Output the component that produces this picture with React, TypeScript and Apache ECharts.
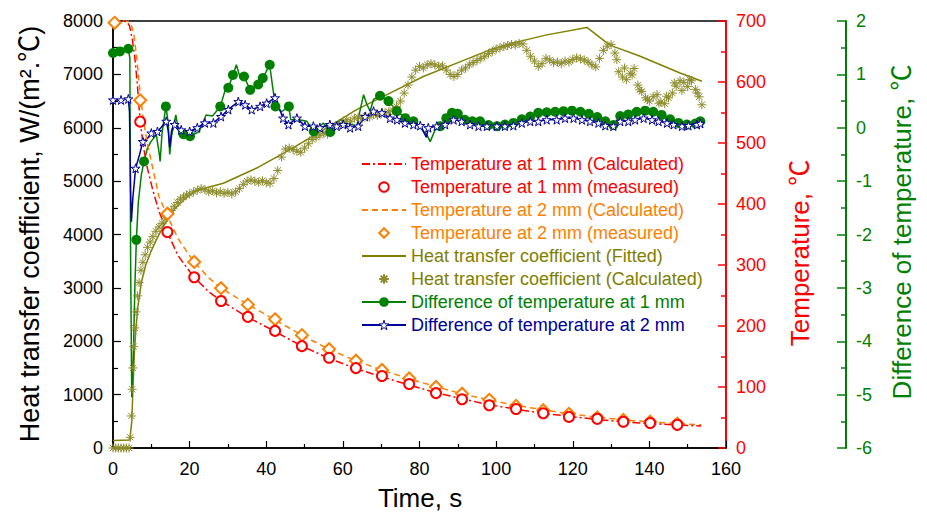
import React, { useEffect, useRef } from "react";
import * as echarts from "echarts";

const FONT = '"Liberation Sans", Arial, "Noto Sans CJK SC", sans-serif';

// Temperature (°C), calculated curves [time s, T]
const tempCalc1 = [[0,700],[2,700],[3.6,699],[4.3,692],[5,672],[5.7,640],[6.3,600],[7.1,535],[8,492],[9,458],[10.5,420],[12,388],[14,356],[17,315],[21,281],[25,256],[28,242],[35,215],[42,192],[49,168],[56,148],[63,131],[70,117],[77,104],[84,91],[91,81],[98,71],[105,64],[112,57],[119,52],[126,47],[133,43],[140,40],[147,38],[153.5,36]];
const tempCalc2 = [[0,700],[2,700],[4,699],[4.8,693],[5.5,675],[6.2,640],[7.1,580],[8,535],[9,498],[10.5,455],[12,412],[14,383],[17,343],[21,306],[25,279],[28,263],[35,236],[42,211],[49,186],[56,163],[63,144],[70,128],[77,114],[84,101],[91,89],[98,79],[105,70],[112,63],[119,56],[126,51],[133,46],[140,43],[147,40],[153.5,38]];
// Measured temperatures (first 1 mm point hidden under the 2 mm marker in the picture)
const measTimes = [0.4,7.1,14.2,21.2,28.2,35.2,42.3,49.3,56.4,63.4,70.2,77.3,84.3,91.1,98.2,105.2,112.3,119,126.4,133.2,140.2,147.3];
const tempMeas1 = [null,535,354,280,241,215,192,167,148,131,118,105,90,80,70,64,57,51,48,43,41,38];
const tempMeas2 = [697,570,384,305,262,235,211,185,162,143,128,114,100,89,79,69,62,56,50,46,43,40];

// Heat transfer coefficient W/(m2.C)
const htcFitted = [[0,140],[4.4,150],[4.9,500],[5.2,1100],[5.6,1800],[6.0,2250],[6.5,2650],[7.4,3100],[8.5,3420],[9.9,3680],[11.3,3900],[13.1,4150],[16.1,4480],[19.6,4720],[22,4830],[28.8,4960],[37.5,5245],[46.2,5590],[54.9,5960],[63.6,6340],[72.3,6650],[81,6960],[89.7,7210],[98.4,7460],[104.5,7590],[113.2,7740],[123.7,7880],[128.9,7590],[130.6,7525],[137.6,7340],[148,7025],[153.7,6870]];
const htcCalc = [[0,0],[0.7,0],[1.4,0],[2.1,0],[2.8,0],[3.5,0],[4.2,0],[4.5,200],[4.8,600],[5.0,1100],[5.2,1500],[5.4,1900],[5.7,2250],[6.0,2550],[6.4,2850],[6.8,3100],[7.3,3330],[7.8,3480],[8.4,3620],[9.0,3760],[9.7,3860],[10.4,3960],[11.2,4060],[12,4140],[12.8,4210],[13.6,4290],[14.4,4370],[15.2,4450],[16,4530],[16.8,4600],[17.6,4660],[18.4,4700],[19.2,4740],[20,4760],[21,4800],[22,4830],[23,4860],[24,4840],[25,4800],[26,4820],[27,4780],[28,4800],[29,4770],[30,4790],[31,4760],[32,4800],[33,4860],[34,4940],[35,5000],[36,5020],[37,5000],[38,4980],[39,5010],[40,4970],[41,4960],[42,5050],[43,5200],[44,5450],[45,5600],[46,5620],[47,5590],[48,5560],[49,5540],[50,5620],[51,5700],[52,5780],[53,5820],[54,5860],[55,5900],[56,5880],[57,5960],[58,6040],[59,6060],[60,6100],[61,6150],[62,6120],[63,6180],[64,6200],[65,6170],[66,6220],[67,6200],[68,6250],[69,6230],[70,6260],[71,6280],[72,6300],[73,6330],[74,6400],[75,6500],[76,6650],[77,6800],[78,6950],[79,7080],[80,7150],[81,7120],[82,7180],[83,7200],[84,7180],[85,7150],[86,7160],[87,7080],[88,7000],[89,6960],[90,7000],[91,7080],[92,7120],[93,7180],[94,7220],[95,7260],[96,7300],[97,7340],[98,7390],[99,7430],[100,7470],[101,7500],[102,7520],[103,7540],[104,7560],[105,7550],[106,7580],[107,7570],[108,7450],[109,7340],[110,7250],[111,7150],[112,7200],[113,7300],[114,7270],[115,7220],[116,7230],[117,7200],[118,7250],[119,7230],[120,7280],[121,7310],[122,7290],[123,7270],[124,7230],[125,7180],[126,7140],[127,7300],[128,7450],[129,7530],[130,7560],[131,7400],[131.5,7275],[132,7050],[133,6950],[133.5,7120],[134,6900],[135,7020],[135.5,6990],[136,7110],[137,6800],[137.5,6710],[138,6680],[139,6560],[139.5,6525],[140,6500],[141,6580],[142,6620],[142.5,6460],[143,6480],[144,6450],[144.5,6590],[145,6560],[146,6650],[146.5,6840],[147,6780],[148,6880],[148.5,6700],[149,6850],[150,6770],[150.5,6900],[151,6880],[152,6720],[152.5,6650],[153,6580],[153.7,6430]];

// Difference of temperature (°C): [time, diff, marker(1) / none(0)]
const diff1mm = [[0,1.40,1],[1.8,1.43,1],[4.0,1.48,1],[4.4,1.3,0],[4.6,-2.5,0],[4.9,-5.05,0],[5.3,-4.3,0],[5.7,-3.0,0],[6.1,-2.1,1],[6.6,-1.4,0],[7.4,-0.88,0],[8.1,-0.63,1],[9.0,-0.38,0],[9.9,-0.26,0],[11.3,-0.13,0],[12.0,-0.45,0],[12.3,-0.63,0],[12.8,-0.1,0],[13.8,0.40,1],[14.4,0.1,0],[14.8,-0.5,0],[15.3,-0.15,0],[16.4,0.24,0],[17.2,-0.1,0],[18.4,-0.12,1],[20.1,-0.16,1],[22.5,-0.07,0],[24.3,0.24,0],[26.0,0.22,0],[28.0,0.40,1],[29.3,0.71,0],[30.1,0.75,1],[31.3,0.99,1],[32.2,1.18,0],[33.2,0.93,0],[34.2,0.96,1],[35.8,0.71,1],[37.9,0.81,1],[39.1,0.93,1],[40.9,1.18,1],[41.6,0.8,0],[42.4,0.40,1],[44.0,0.30,0],[45.9,0.40,1],[46.4,0.15,0],[48.6,0.15,0],[50.6,0.12,0],[52.4,-0.07,1],[54.9,0.09,0],[56.7,-0.08,1],[59.3,0.15,0],[61.0,0.09,0],[63.6,0.03,0],[65.4,0.62,0],[66.2,0.45,0],[67.1,0.31,0],[68.0,0.53,0],[69.7,0.6,1],[71.9,0.5,1],[74.1,0.31,1],[76.3,0.18,1],[78.4,0.12,1],[80.2,0.0,0],[81.9,-0.13,0],[82.8,-0.26,0],[84.0,-0.05,0],[85.4,0.03,1],[87.0,0.18,1],[88.5,0.28,1],[90.0,0.26,1],[91.8,0.15,1],[93.8,0.12,1],[95.8,0.12,1],[98,0.05,1],[100.2,0.03,1],[102.3,0.06,1],[104.5,0.09,1],[106.7,0.16,1],[108.9,0.21,1],[111,0.28,1],[113.2,0.29,1],[115.4,0.3,1],[117.6,0.31,1],[119.8,0.32,1],[122,0.3,1],[124.2,0.26,1],[126.4,0.2,1],[128.5,0.12,1],[130.6,0.05,1],[132.4,0.22,1],[134.5,0.25,1],[136.7,0.3,1],[138.9,0.32,1],[141,0.3,1],[143.2,0.24,1],[145.4,0.16,1],[147.6,0.09,1],[149.8,0.06,1],[152,0.08,1],[153.3,0.12,1]];
const diff2mm = [[0,0.52,1],[2.1,0.52,1],[4.0,0.54,1],[4.3,0.3,0],[4.6,-1.2,0],[4.8,-1.76,0],[5.2,-1.3,0],[5.9,-0.76,1],[6.9,-0.51,0],[7.8,-0.26,1],[9.1,-0.19,0],[10.0,-0.1,1],[11.6,-0.07,1],[12.5,0.0,0],[13.9,0.12,1],[14.4,-0.05,0],[14.8,-0.37,0],[15.3,-0.05,0],[16.1,0.06,1],[17.8,-0.04,1],[20.0,-0.07,1],[22.0,0.0,1],[24.0,0.09,1],[26.2,0.09,1],[28.2,0.21,1],[30.1,0.34,1],[32.7,0.49,1],[34.5,0.43,1],[36.2,0.34,1],[38.4,0.4,1],[40.1,0.46,1],[42.3,0.56,1],[44.4,0.18,1],[45.8,0.06,1],[48.0,0.18,1],[50.1,0.03,1],[52.3,0.03,1],[54.0,0.0,1],[56.6,0.06,1],[58.4,0.03,1],[60.1,0.06,1],[61.9,0.0,1],[64.0,0.03,1],[65.8,0.21,1],[68.0,0.31,1],[70.2,0.28,1],[72.3,0.18,1],[74.1,0.15,1],[76.2,0.09,1],[78.4,0.06,1],[80.2,0.04,1],[81.8,-0.18,0],[82.3,0.0,1],[84.5,0.03,1],[86.7,0.06,1],[88.9,0.15,1],[91.0,0.12,1],[93.2,0.06,1],[95.4,0.03,1],[97.6,0.03,1],[100.2,0.03,1],[102.3,0.03,1],[104.5,0.04,1],[106.7,0.09,1],[108.9,0.12,1],[111.0,0.12,1],[113.2,0.15,1],[115.8,0.15,1],[118.0,0.18,1],[120.2,0.18,1],[122.4,0.15,1],[124.5,0.12,1],[126.7,0.09,1],[128.5,0.04,1],[130.6,0.03,1],[132.4,0.12,1],[134.5,0.12,1],[136.3,0.15,1],[138.5,0.18,1],[140.7,0.15,1],[142.4,0.12,1],[144.6,0.09,1],[146.3,0.06,1],[148.5,0.03,1],[150.2,0.04,1],[152.4,0.06,1],[153.3,0.08,1]];

const RED = "#FF0000";
const ORANGE = "#FF8000";
const OLIVE = "#808000";
const GREEN = "#008000";
const NAVY = "#000099";

const ASTERISK = "path://M0,5L10,5M5,0L5,10M1.5,1.5L8.5,8.5M8.5,1.5L1.5,8.5";
const STAR = "path://M50,0L61,35L98,35L68,57L79,91L50,70L21,91L32,57L2,35L39,35Z";

const NAMES = {
  c1: "Temperature at 1 mm (Calculated)",
  m1: "Temperature at 1 mm (measured)",
  c2: "Temperature at 2 mm (Calculated)",
  m2: "Temperature at 2 mm (measured)",
  hf: "Heat transfer coefficient (Fitted)",
  hc: "Heat transfer coefficient (Calculated)",
  d1: "Difference of temperature at 1 mm",
  d2: "Difference of temperature at 2 mm",
};

const withMarkers = (arr: number[][]) =>
  arr.map(([t, d, m]) => (m ? [t, d] : { value: [t, d], symbol: "none" }));

const HIDDEN_SYMBOL = { color: "rgba(0,0,0,0)", borderColor: "rgba(0,0,0,0)", borderWidth: 0 };

export default function App() {
  const ref = useRef<HTMLDivElement>(null);
  useEffect(() => {
    document.body.style.margin = "0";
    const chart = echarts.init(ref.current!, null, { renderer: "svg" });
    const label = { fontFamily: FONT, fontSize: 18 };
    chart.setOption({
      animation: false,
      backgroundColor: "#fff",
      grid: { left: 113, right: 201, top: 21, bottom: 69, show: true, borderColor: "#000", borderWidth: 1.5, backgroundColor: "transparent" },
      xAxis: {
        type: "value", min: 0, max: 160, interval: 20,
        axisLine: { show: true, onZero: false, lineStyle: { color: "#000", width: 1.5 } },
        axisTick: { show: true, inside: true, length: 7, lineStyle: { color: "#000", width: 1.2 } },
        minorTick: { show: true, splitNumber: 2, length: 4, lineStyle: { color: "#000", width: 1.2 } },
        splitLine: { show: false },
        axisLabel: { ...label, color: "#000", margin: 12 },
      },
      yAxis: [
        {
          type: "value", position: "left", min: 0, max: 8000, interval: 1000,
          axisLine: { show: true, lineStyle: { color: "#000", width: 1.5 } },
          axisTick: { show: true, inside: true, length: 8, lineStyle: { color: "#000", width: 1.2 } },
          minorTick: { show: true, splitNumber: 2, length: 5, lineStyle: { color: "#000", width: 1.2 } },
          splitLine: { show: false },
          axisLabel: { ...label, color: "#000", margin: 10, formatter: (v: number) => String(v) },
        },
        {
          type: "value", position: "right", offset: 0, min: 0, max: 700, interval: 100,
          axisLine: { show: true, lineStyle: { color: RED, width: 2 } },
          axisTick: { show: true, inside: true, length: 8, lineStyle: { color: RED, width: 1.5 } },
          minorTick: { show: true, splitNumber: 2, length: 5, lineStyle: { color: RED, width: 1.5 } },
          splitLine: { show: false },
          axisLabel: { ...label, color: RED, margin: 10 },
        },
        {
          type: "value", position: "right", offset: 120, min: -6, max: 2, interval: 1,
          axisLine: { show: true, lineStyle: { color: GREEN, width: 2 } },
          axisTick: { show: true, inside: true, length: 9, lineStyle: { color: GREEN, width: 1.5 } },
          minorTick: { show: true, splitNumber: 2, length: 5, lineStyle: { color: GREEN, width: 1.5 } },
          splitLine: { show: false },
          axisLabel: { ...label, color: GREEN, margin: 10 },
        },
      ],
      legend: {
        orient: "vertical", left: 356, top: 150, itemGap: 5, itemWidth: 44, itemHeight: 12,
        textStyle: { fontFamily: FONT, fontSize: 18, lineHeight: 18 },
        data: [
          { name: NAMES.c1, textStyle: { color: RED }, itemStyle: HIDDEN_SYMBOL },
          { name: NAMES.m1, textStyle: { color: RED } },
          { name: NAMES.c2, textStyle: { color: ORANGE }, itemStyle: HIDDEN_SYMBOL },
          { name: NAMES.m2, textStyle: { color: ORANGE } },
          { name: NAMES.hf, textStyle: { color: OLIVE }, itemStyle: HIDDEN_SYMBOL },
          { name: NAMES.hc, textStyle: { color: OLIVE } },
          { name: NAMES.d1, textStyle: { color: GREEN } },
          { name: NAMES.d2, textStyle: { color: NAVY }, itemStyle: { color: "#fff", borderColor: NAVY, borderWidth: 1 } },
        ],
      },
      graphic: [
        { type: "text", x: 30, y: 234, rotation: Math.PI / 2, style: { text: "Heat transfer coefficient, W/(m².℃)", font: `27px ${FONT}`, fill: "#000", align: "center", verticalAlign: "middle" } },
        { type: "text", x: 420, y: 498, style: { text: "Time, s", font: `26px ${FONT}`, fill: "#000", align: "center", verticalAlign: "middle" } },
        { type: "text", x: 800, y: 253, rotation: Math.PI / 2, style: { text: "Temperature, ℃", font: `26px ${FONT}`, fill: RED, align: "center", verticalAlign: "middle" } },
        { type: "text", x: 902, y: 232, rotation: Math.PI / 2, style: { text: "Difference of temperature, ℃", font: `26px ${FONT}`, fill: GREEN, align: "center", verticalAlign: "middle" } },
      ],
      series: [
        {
          name: NAMES.hc, type: "line", yAxisIndex: 0, symbol: ASTERISK, symbolSize: 9, showAllSymbol: true,
          lineStyle: { width: 0, opacity: 0 },
          itemStyle: { color: "rgba(0,0,0,0)", borderColor: "#8c8c2c", borderWidth: 1 },
          data: htcCalc,
        },
        {
          name: NAMES.hf, type: "line", yAxisIndex: 0, symbol: "none",
          lineStyle: { color: OLIVE, width: 1.5 }, itemStyle: { color: OLIVE },
          data: htcFitted,
        },
        {
          name: NAMES.d1, type: "line", yAxisIndex: 2, symbol: "circle", symbolSize: 10, showAllSymbol: true,
          lineStyle: { color: GREEN, width: 1.5 }, itemStyle: { color: GREEN },
          data: withMarkers(diff1mm),
        },
        {
          name: NAMES.d2, type: "line", yAxisIndex: 2, symbol: STAR, symbolSize: 9, showAllSymbol: true,
          lineStyle: { color: NAVY, width: 1.5 }, itemStyle: { color: "#fff", borderColor: NAVY, borderWidth: 1 },
          data: withMarkers(diff2mm),
        },
        {
          name: NAMES.c2, type: "line", yAxisIndex: 1, symbol: "none",
          lineStyle: { color: ORANGE, width: 1.5, type: [6, 4] }, itemStyle: { color: ORANGE },
          data: tempCalc2,
        },
        {
          name: NAMES.m2, type: "line", yAxisIndex: 1, symbol: "emptyDiamond", symbolSize: 12, showAllSymbol: true,
          lineStyle: { width: 0, opacity: 0 },
          itemStyle: { color: ORANGE, borderWidth: 1 },
          data: measTimes.map((t, i) => [t, tempMeas2[i]]),
        },
        {
          name: NAMES.c1, type: "line", yAxisIndex: 1, symbol: "none",
          lineStyle: { color: RED, width: 1.5, type: [8, 3, 2, 3] }, itemStyle: { color: RED },
          data: tempCalc1,
        },
        {
          name: NAMES.m1, type: "line", yAxisIndex: 1, symbol: "emptyCircle", symbolSize: 10, showAllSymbol: true,
          lineStyle: { width: 0, opacity: 0 },
          itemStyle: { color: RED, borderWidth: 1 },
          data: measTimes.map((t, i) => [t, tempMeas1[i]]),
        },
      ],
    });
    return () => chart.dispose();
  }, []);
  return <div ref={ref} style={{ width: 927, height: 517 }} />;
}
